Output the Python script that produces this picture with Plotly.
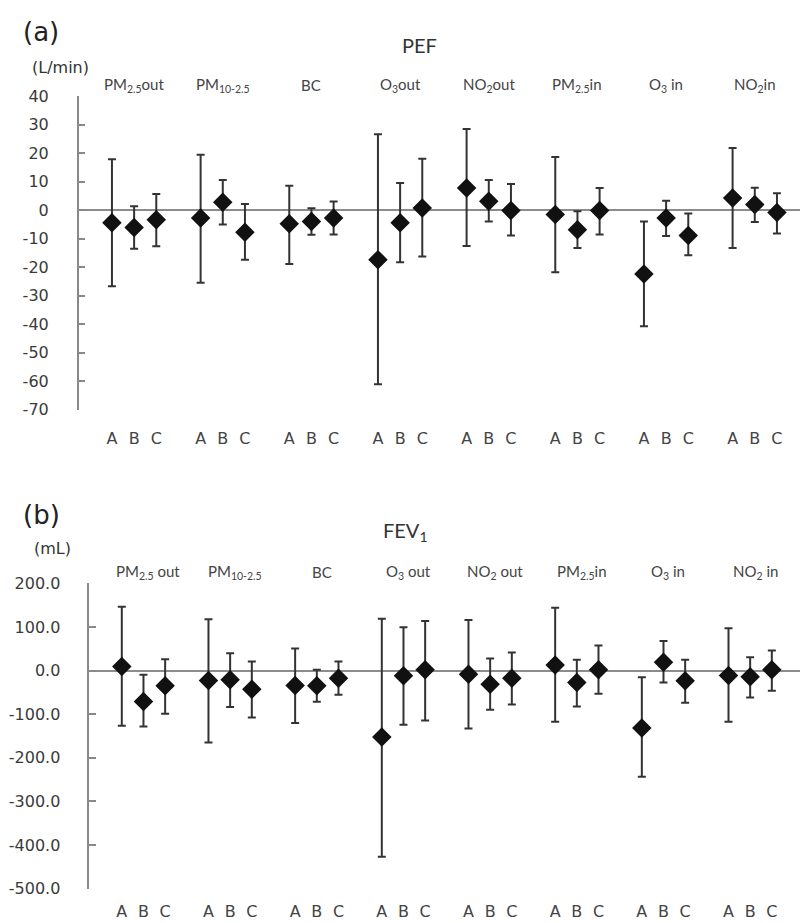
import plotly.graph_objects as go

W, H = 800, 923

groups_a = ["PM<sub>2.5</sub>out", "PM<sub>10-2.5</sub>", "BC", "O<sub>3</sub>out",
            "NO<sub>2</sub>out", "PM<sub>2.5</sub>in", "O<sub>3</sub> in", "NO<sub>2</sub>in"]
groups_b = ["PM<sub>2.5</sub> out", "PM<sub>10-2.5</sub>", "BC", "O<sub>3</sub> out",
            "NO<sub>2</sub> out", "PM<sub>2.5</sub>in", "O<sub>3</sub> in", "NO<sub>2</sub> in"]
models = ["A", "B", "C"]

# Panel (a) PEF (L/min): estimate, lower CI, upper CI  (order: group x model)
pef_est = [-4.5, -6.1, -3.4,  -2.8, 2.7, -7.8,  -4.8, -4.0, -2.8,  -17.4, -4.5, 0.7,
           7.7, 3.1, -0.2,  -1.6, -6.9, -0.2,  -22.4, -2.8, -8.9,  4.2, 1.9, -0.9]
pef_lo = [-26.7, -13.6, -12.7,  -25.5, -5.1, -17.4,  -18.9, -8.7, -8.6,  -61.1, -18.3, -16.3,
          -12.6, -4.0, -8.9,  -21.8, -13.3, -8.6,  -40.8, -9.1, -15.9,  -13.3, -4.2, -8.2]
pef_hi = [17.8, 1.3, 5.6,  19.4, 10.5, 2.1,  8.5, 0.6, 3.0,  26.6, 9.5, 18.0,
          28.4, 10.5, 9.1,  18.6, -0.4, 7.7,  -4.0, 3.3, -1.2,  21.8, 7.8, 5.9]
pef_ticks = [40, 30, 20, 10, 0, -10, -20, -30, -40, -50, -60, -70]
pef_ticktext = ["40", "30", "20", "10", "0", "-10", "-20", "-30", "-40", "-50", "-60", "-70"]

# Panel (b) FEV1 (mL)
fev_est = [9.2, -70.9, -35.0,  -22.9, -21.3, -42.6,  -34.3, -35.0, -17.4,  -152.4, -12.0, 1.6,
           -8.3, -31.2, -17.4,  13.0, -27.4, 1.6,  -131.9, 19.2, -23.6,  -11.4, -14.4, 1.6]
fev_lo = [-126.5, -128.0, -99.0,  -164.7, -83.8, -107.5,  -120.4, -71.6, -55.6,  -427.0, -124.3, -114.4,
          -132.7, -90.0, -77.7,  -117.4, -82.4, -53.3,  -243.2, -27.4, -73.9,  -117.4, -61.8, -46.5]
fev_hi = [146.5, -9.8, 26.0,  117.6, 39.8, 20.6,  50.3, 1.6, 20.6,  119.0, 99.3, 113.7,
          116.0, 27.5, 41.2,  144.2, 24.5, 57.2,  -15.1, 68.0, 24.5,  97.0, 30.7, 45.8]
fev_ticks = [200, 100, 0, -100, -200, -300, -400, -500]
fev_ticktext = ["200.0", "100.0", "0.0", "-100.0", "-200.0", "-300.0", "-400.0", "-500.0"]

pos = [4 * g + 1 + k for g in range(len(groups_a)) for k in range(3)]
labels = [m for _ in groups_a for m in models]

def ypaper(px):
    return 1 - px / H

fig = go.Figure()

def add_panel(est, lo, hi, xa, ya):
    fig.add_trace(go.Scatter(
        x=pos, y=est, mode="markers", xaxis=xa, yaxis=ya, showlegend=False,
        marker=dict(symbol="diamond", size=15, color="#111111"),
        error_y=dict(type="data", symmetric=False,
                     array=[h - e for h, e in zip(hi, est)],
                     arrayminus=[e - l for e, l in zip(est, lo)],
                     color="#333333", thickness=2, width=4),
    ))

add_panel(pef_est, pef_lo, pef_hi, "x", "y")
add_panel(fev_est, fev_lo, fev_hi, "x2", "y2")

tickfont = dict(family="DejaVu Sans", size=16, color="#3a3a3a")
catfont = dict(family="DejaVu Sans", size=16, color="#444444")

xcommon = dict(tickmode="array", tickvals=pos, ticktext=labels, showgrid=False,
               zeroline=False, showline=False, ticks="", tickfont=catfont,
               automargin=False)
ycommon = dict(showgrid=False, showline=True, linecolor="#888888", linewidth=1.5,
               ticks="inside", ticklen=7, tickcolor="#888888", tickwidth=1.5,
               zeroline=True, zerolinecolor="#8c8c8c", zerolinewidth=2,
               tickfont=tickfont, tickmode="array", automargin=False)

fig.update_layout(
    width=W, height=H, margin=dict(l=0, r=0, t=0, b=0, pad=0, autoexpand=False),
    paper_bgcolor="white", plot_bgcolor="white",
    xaxis=dict(domain=[78.7 / W, 1], range=[-0.5, 32.04], anchor="y",
               ticklabelstandoff=17, **xcommon),
    yaxis=dict(domain=[ypaper(409.6), ypaper(96)], range=[-70, 40],
               tickvals=pef_ticks, ticktext=pef_ticktext, anchor="x",
               ticklabelstandoff=25, **ycommon),
    xaxis2=dict(domain=[89.3 / W, 1], range=[-0.5, 32.3], anchor="y2",
                ticklabelstandoff=11, **xcommon),
    yaxis2=dict(domain=[ypaper(888.7), ypaper(583.3)], range=[-500, 200],
                tickvals=fev_ticks, ticktext=fev_ticktext, anchor="x2",
                ticklabelstandoff=24, **ycommon),
)

grpfont = dict(family="Lato", size=15, color="#444444")
ann = []
for g, name in enumerate(groups_a):
    ann.append(dict(x=4 * g + 2, y=ypaper(85), xref="x", yref="paper", text=name,
                    showarrow=False, font=grpfont, xanchor="center", yanchor="middle"))
for g, name in enumerate(groups_b):
    ann.append(dict(x=4 * g + 2, y=ypaper(572), xref="x2", yref="paper", text=name,
                    showarrow=False, font=grpfont, xanchor="center", yanchor="middle",
                    xshift=5))

ann += [
    dict(x=419 / W, y=ypaper(45), xref="paper", yref="paper", text="PEF", showarrow=False,
         font=dict(family="Lato", size=20, color="#333333"), xanchor="center", yanchor="middle"),
    dict(x=406 / W, y=ypaper(531), xref="paper", yref="paper", text="FEV<sub>1</sub>",
         showarrow=False, font=dict(family="Lato", size=20, color="#333333"),
         xanchor="center", yanchor="middle"),
    dict(x=21 / W, y=ypaper(32), xref="paper", yref="paper", text="(a)", showarrow=False,
         font=dict(family="DejaVu Sans", size=26, color="#222222"), xanchor="left", yanchor="middle"),
    dict(x=30 / W, y=ypaper(67), xref="paper", yref="paper", text="(L/min)", showarrow=False,
         font=dict(family="DejaVu Sans", size=16, color="#333333"), xanchor="left", yanchor="middle"),
    dict(x=21 / W, y=ypaper(515), xref="paper", yref="paper", text="(b)", showarrow=False,
         font=dict(family="DejaVu Sans", size=26, color="#222222"), xanchor="left", yanchor="middle"),
    dict(x=32 / W, y=ypaper(548), xref="paper", yref="paper", text="(mL)", showarrow=False,
         font=dict(family="DejaVu Sans", size=16, color="#333333"), xanchor="left", yanchor="middle"),
]
fig.update_layout(annotations=ann)

post = (
    "document.documentElement.style.margin='0';"
    "document.body.style.margin='0';document.body.style.padding='0';"
    "document.body.style.overflow='hidden';"
    "var d=document.getElementById('{plot_id}');"
    "d.style.position='fixed';d.style.top='0px';d.style.left='0px';"
)
fig.write_html("out.html", config={"displayModeBar": False}, post_script=post)
